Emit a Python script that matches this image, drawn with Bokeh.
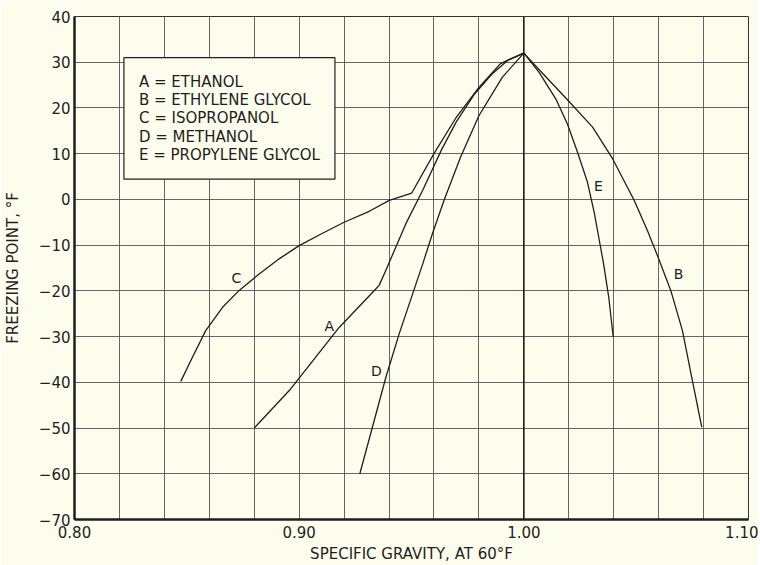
from bokeh.plotting import figure
from bokeh.models import Range1d, FixedTicker, Span, Label, NumeralTickFormatter
from bokeh.core.properties import value
from bokeh.embed import file_html
from bokeh.resources import INLINE

# ---- data (specific gravity vs freezing point, deg F) ----
ethanol_sg = [0.880, 0.8956, 0.9178, 0.9341, 0.9356, 0.9386, 0.9475, 0.955, 0.9635, 0.970,
              0.978, 0.986, 0.993, 1.000]
ethanol_fp = [-50, -41.8, -28.0, -19.6, -18.8, -15.5, -5.3, 2.0, 11.0, 17.0,
              23.0, 27.5, 30.5, 32]

eglycol_sg = [1.000, 1.0083, 1.0194, 1.0306, 1.0395, 1.0491, 1.055, 1.0595, 1.0654, 1.0706,
              1.075, 1.0792]
eglycol_fp = [32, 27.6, 21.8, 15.8, 8.9, -0.2, -6.8, -12.3, -19.9, -28.7,
              -39.6, -49.8]

isoprop_sg = [0.8473, 0.8525, 0.8584, 0.8659, 0.8733, 0.8822, 0.8911, 0.900, 0.9104, 0.920,
              0.9312, 0.9401, 0.9501, 0.960, 0.9696, 0.980, 0.9896, 1.000]
isoprop_fp = [-39.8, -34.5, -28.7, -23.6, -19.9, -16.3, -13.0, -10.1, -7.4, -5.0,
              -2.6, -0.2, 1.4, 10.0, 17.7, 24.5, 29.7, 32]

methanol_sg = [0.927, 0.9386, 0.9445, 0.955, 0.9593, 0.9645, 0.9718, 0.980, 0.9904, 1.000]
methanol_fp = [-60, -38.9, -29.4, -14.1, -7.5, -0.2, 9.2, 18.3, 26.7, 32]

pglycol_sg = [1.000, 1.0068, 1.0142, 1.0194, 1.0239, 1.0283, 1.0313, 1.0328, 1.0355, 1.0378, 1.0398]
pglycol_fp = [32, 27.8, 22.0, 16.5, 10.3, 3.8, -2.8, -6.8, -14.1, -21.4, -30.1]

curve_letters = ["A", "B", "C", "D", "E"]
curve_letter_sg = [0.9134, 1.0689, 0.8721, 0.9344, 1.0332]
curve_letter_fp = [-27.6, -16.3, -17.2, -37.6, 3.0]

legend_lines = ["A = ETHANOL", "B = ETHYLENE GLYCOL", "C = ISOPROPANOL",
                "D = METHANOL", "E = PROPYLENE GLYCOL"]

x_label_ticks = [0.80, 0.90, 1.00, 1.10]
x_grid_ticks = [0.80, 0.82, 0.84, 0.86, 0.88, 0.90, 0.92, 0.94, 0.96, 0.98,
                1.00, 1.02, 1.04, 1.06, 1.08, 1.10]
y_ticks = [-70, -60, -50, -40, -30, -20, -10, 0, 10, 20, 30, 40]
y_tick_labels = ["\u221270", "\u221260", "\u221250", "\u221240", "\u221230", "\u221220",
                 "\u221210", "0", "10", "20", "30", "40"]

# ---- styling ----
BG = "#fdfdee"
INK = "#1e1e1e"
GRID = "#555555"
FONT = "DejaVu Sans"

p = figure(frame_width=674, frame_height=503,
           x_range=Range1d(0.80, 1.10), y_range=Range1d(-70, 40),
           output_backend="svg", toolbar_location=None,
           min_border_left=72, min_border_right=10, min_border_top=16, min_border_bottom=42,
           background_fill_color=BG, border_fill_color=BG,
           outline_line_color="#333333", outline_line_width=1)

p.xaxis.ticker = FixedTicker(ticks=x_label_ticks)
p.xaxis.formatter = NumeralTickFormatter(format="0.00")
p.yaxis.ticker = FixedTicker(ticks=y_ticks)
p.yaxis.major_label_overrides = {t: l for t, l in zip(y_ticks, y_tick_labels)}

p.xgrid.ticker = FixedTicker(ticks=x_grid_ticks)
p.ygrid.ticker = FixedTicker(ticks=y_ticks)
for g in (p.xgrid, p.ygrid):
    g.grid_line_color = GRID
    g.grid_line_width = 1
    g.grid_line_alpha = 0.9

for ax in (p.xaxis, p.yaxis):
    ax.axis_line_width = 2.5
    ax.axis_line_color = INK
    ax.major_tick_line_color = None
    ax.minor_tick_line_color = None
    ax.major_tick_out = 0
    ax.major_tick_in = 0
    ax.major_label_text_font = FONT
    ax.major_label_text_font_size = "15px"
    ax.major_label_text_color = INK
    ax.axis_label_text_font = FONT
    ax.axis_label_text_font_size = "15px"
    ax.axis_label_text_font_style = "normal"
    ax.axis_label_text_color = INK

p.xaxis.axis_label = "SPECIFIC GRAVITY, AT 60\u00b0F"
p.yaxis.axis_label = "FREEZING POINT, \u00b0F"
p.xaxis.major_label_standoff = 6
p.xaxis.axis_label_standoff = 4
p.yaxis.major_label_standoff = 4
p.yaxis.axis_label_standoff = 14

# heavier vertical line at specific gravity 1.00 (water)
p.add_layout(Span(location=1.00, dimension="height", line_color=INK, line_width=1.6))

# curves
for xs, ys in ((ethanol_sg, ethanol_fp), (eglycol_sg, eglycol_fp), (isoprop_sg, isoprop_fp),
               (methanol_sg, methanol_fp), (pglycol_sg, pglycol_fp)):
    p.line(xs, ys, line_color=INK, line_width=1.3, line_join="round")

# curve letters
p.text(x=curve_letter_sg, y=curve_letter_fp, text=curve_letters,
       text_font=value(FONT), text_font_size="14px", text_color=INK,
       text_align="center", text_baseline="middle")

# legend box
p.add_layout(Label(x=0.822, y=31, text="\n".join(legend_lines),
                   text_font=FONT, text_font_size="15px", text_color=INK,
                   text_align="left", text_baseline="top", text_line_height=1.02,
                   padding=15, border_line_color=INK, border_line_width=1.2,
                   background_fill_color=BG))

open("out.html", "w").write(file_html(p, INLINE))
